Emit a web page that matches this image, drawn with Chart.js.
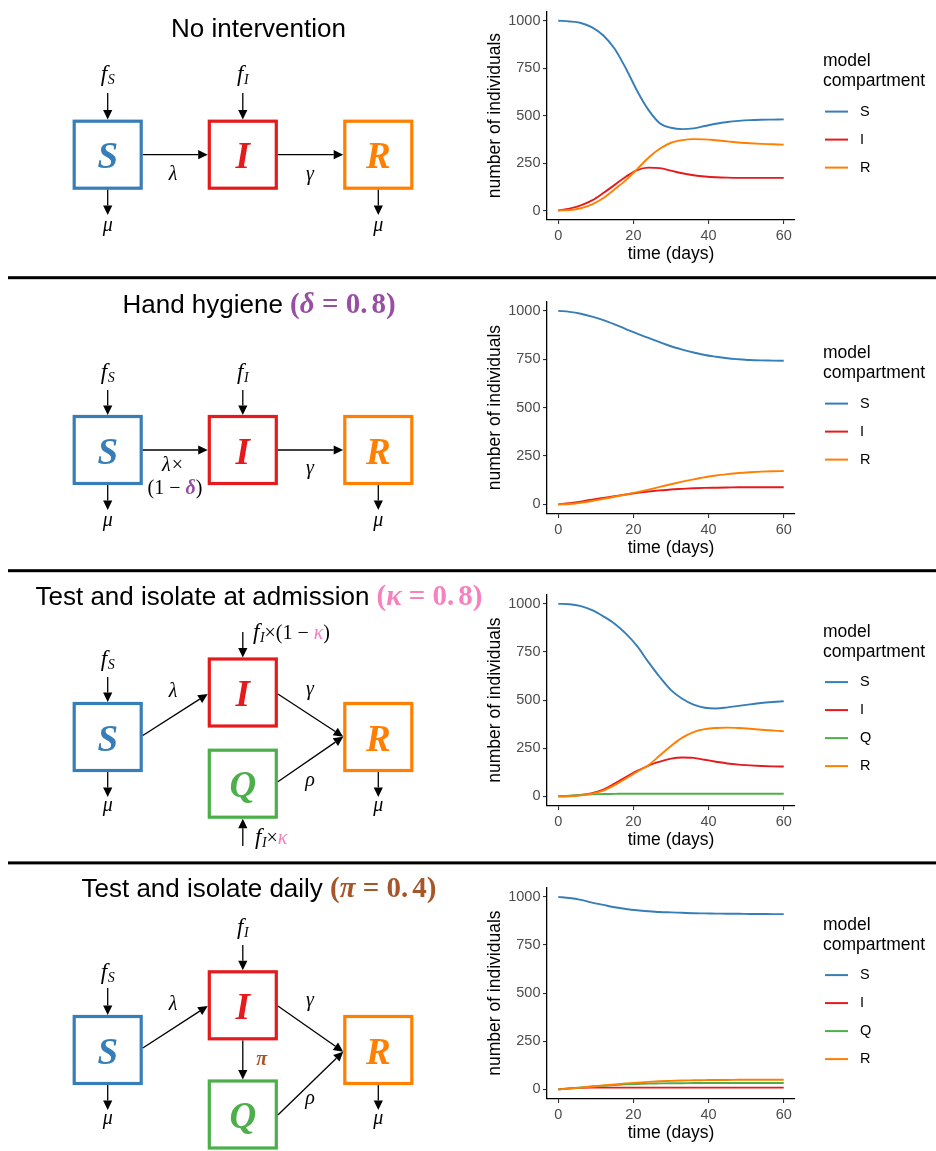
<!DOCTYPE html>
<html>
<head>
<meta charset="utf-8">
<script src="https://cdn.jsdelivr.net/npm/chart.js@4.4.1/dist/chart.umd.min.js"></script>
<style>
  html, body { margin: 0; padding: 0; background: #fff; }
  #wrap { position: relative; width: 936px; height: 1151px; overflow: hidden; background: #fff; }
  canvas { position: absolute; }
</style>
</head>
<body>
<div id="wrap">
  <canvas id="diagram" width="936" height="1151" style="left:0;top:0"></canvas>
  <canvas id="chartNone"></canvas>
  <canvas id="chartHand"></canvas>
  <canvas id="chartAdmit"></canvas>
  <canvas id="chartDaily"></canvas>
</div>
<script>
// ---- model output: compartment sizes, sampled every 3 days ----
const days = [0, 3, 6, 9, 12, 15, 18, 21, 24, 27, 30, 33, 36, 39, 42, 45, 48, 51, 54, 57, 60];
const xTicks = [0, 20, 40, 60];
const yTicks = [0, 250, 500, 750, 1000];

// No intervention
const noneS = [1000, 996, 988, 965, 922, 852, 748, 630, 530, 460, 436, 429, 433, 445, 457, 466, 472, 476, 478, 479, 480];
const noneI = [0, 10, 27, 53, 92, 135, 178, 213, 226, 223, 210, 196, 186, 179, 175, 173, 172, 172, 172, 172, 172];
const noneR = [0, 3, 12, 32, 66, 112, 160, 218, 278, 325, 357, 371, 376, 375, 370, 364, 358, 354, 351, 349, 347];

// Hand hygiene (delta = 0.8)
const handS = [1000, 995, 985, 970, 952, 930, 906, 882, 860, 838, 817, 800, 785, 772, 763, 755, 750, 746, 744, 743, 742];
const handI = [0, 6, 14, 24, 33, 42, 51, 59, 66, 72, 77, 80, 83, 85, 86, 87, 88, 88, 88, 88, 88];
const handR = [0, 2, 8, 17, 28, 39, 51, 63, 76, 90, 104, 117, 129, 140, 149, 156, 162, 166, 169, 171, 172];

// Test and isolate at admission (kappa = 0.8)
const admitS = [1000, 998, 988, 967, 935, 897, 845, 780, 697, 620, 552, 507, 476, 460, 456, 462, 470, 478, 485, 490, 494];
const admitI = [0, 2, 7, 17, 35, 66, 100, 132, 160, 180, 196, 202, 200, 190, 180, 171, 165, 161, 158, 156, 155];
const admitQ = [0, 4, 8, 11, 12, 13, 14, 14, 14, 14, 14, 14, 14, 14, 14, 14, 14, 14, 14, 14, 14];
const admitR = [0, 1, 5, 14, 30, 58, 93, 128, 162, 212, 262, 305, 334, 349, 355, 357, 355, 351, 346, 342, 338];

// Test and isolate daily (pi = 0.4)
const dailyS = [1000, 994, 984, 970, 958, 946, 937, 930, 925, 921, 919, 917, 915, 914, 913, 912, 912, 911, 911, 910, 910];
const dailyI = [0, 5, 8, 9, 9, 9, 9, 9, 9, 9, 9, 9, 9, 9, 9, 9, 9, 9, 9, 9, 9];
const dailyQ = [0, 5, 10, 15, 19, 23, 26, 28, 30, 31, 32, 32, 33, 33, 33, 33, 33, 33, 33, 33, 33];
const dailyR = [0, 4, 9, 15, 20, 26, 31, 35, 39, 42, 44, 46, 47, 48, 49, 49, 50, 50, 50, 50, 50];

const compColors = { S: '#377EB8', I: '#E41A1C', Q: '#4DAF4A', R: '#FF7F00' };
const legendTitle = ['model', 'compartment'];
const xTitle = 'time (days)';
const yTitle = 'number of individuals';

const SANS = '"Liberation Sans", Arial, Helvetica, sans-serif';
const SERIF = '"Liberation Serif", "Times New Roman", serif';

// ---------------- legend drawn beside each plot ----------------
const compartmentLegend = {
  id: 'compartmentLegend',
  afterDraw(chart) {
    const { ctx, chartArea: a } = chart;
    const sets = chart.data.datasets;
    const n = sets.length;
    const cy = (a.top + a.bottom) / 2;
    const t1 = cy - 12 - 14 * n;
    ctx.save();
    ctx.textAlign = 'left';
    ctx.textBaseline = 'middle';
    ctx.fillStyle = '#000';
    ctx.font = '17.5px ' + SANS;
    legendTitle.forEach((t, i) => ctx.fillText(t, a.right + 28, t1 + 20 * i));
    sets.forEach((ds, i) => {
      const y = t1 + 50 + 28 * i;
      ctx.strokeStyle = ds.borderColor;
      ctx.lineWidth = 2;
      ctx.beginPath();
      ctx.moveTo(a.right + 30, y);
      ctx.lineTo(a.right + 53, y);
      ctx.stroke();
      ctx.fillStyle = '#000';
      ctx.font = '14.5px ' + SANS;
      ctx.fillText(ds.label, a.right + 65, y);
    });
    ctx.restore();
  }
};

function makeChart(id, top, padTop, height, series) {
  const canvas = document.getElementById(id);
  canvas.width = 466;
  canvas.height = height;
  canvas.style.left = '470px';
  canvas.style.top = top + 'px';
  const n = series.length;
  new Chart(canvas, {
    type: 'line',
    data: {
      datasets: series.map((s, i) => ({
        label: s.name,
        data: days.map((d, j) => ({ x: d, y: s.values[j] })),
        borderColor: compColors[s.name],
        backgroundColor: compColors[s.name],
        borderWidth: 1.9,
        pointRadius: 0,
        fill: false,
        cubicInterpolationMode: 'monotone',
        order: n - i
      }))
    },
    options: {
      responsive: false,
      animation: false,
      devicePixelRatio: 1,
      layout: { padding: { top: padTop, right: 141, bottom: 0, left: 0 } },
      plugins: { legend: { display: false }, tooltip: { enabled: false } },
      scales: {
        x: {
          type: 'linear', min: -3, max: 63,
          afterBuildTicks: s => { s.ticks = xTicks.map(v => ({ value: v })); },
          afterFit: s => { s.height = 50; },
          grid: { drawOnChartArea: false, drawTicks: true, tickLength: 4, color: '#333', lineWidth: 1.1 },
          border: { display: true, color: '#000', width: 1.3 },
          ticks: { color: '#4d4d4d', font: { family: SANS, size: 14.5 }, padding: 3, maxRotation: 0, autoSkip: false, callback: v => String(v) },
          title: { display: true, text: xTitle, color: '#000', font: { family: SANS, size: 17.5 }, padding: { top: 0, bottom: 5.5 } }
        },
        y: {
          type: 'linear', min: -50, max: 1050,
          afterBuildTicks: s => { s.ticks = yTicks.map(v => ({ value: v })); },
          afterFit: s => { s.width = 77; },
          grid: { drawOnChartArea: false, drawTicks: true, tickLength: 4, color: '#333', lineWidth: 1.1 },
          border: { display: true, color: '#000', width: 1.3 },
          ticks: { color: '#4d4d4d', font: { family: SANS, size: 14.5 }, padding: 2.5, autoSkip: false, callback: v => String(v) },
          title: { display: true, text: yTitle, color: '#000', font: { family: SANS, size: 17.5 }, padding: { top: 14.5, bottom: 0 } }
        }
      }
    },
    plugins: [compartmentLegend]
  });
}

makeChart('chartNone', 0, 8, 270, [
  { name: 'S', values: noneS }, { name: 'I', values: noneI }, { name: 'R', values: noneR }]);
makeChart('chartHand', 290, 11, 274, [
  { name: 'S', values: handS }, { name: 'I', values: handI }, { name: 'R', values: handR }]);
makeChart('chartAdmit', 583, 11, 273, [
  { name: 'S', values: admitS }, { name: 'I', values: admitI }, { name: 'Q', values: admitQ }, { name: 'R', values: admitR }]);
makeChart('chartDaily', 876, 10, 273, [
  { name: 'S', values: dailyS }, { name: 'I', values: dailyI }, { name: 'Q', values: dailyQ }, { name: 'R', values: dailyR }]);

// ---------------- compartment flow diagrams ----------------
const dc = document.getElementById('diagram');
const ctx = dc.getContext('2d');

// draw a sequence of styled text runs; align 'center' or 'left' at baseline y
function runs(x, y, parts, align) {
  ctx.save();
  ctx.textBaseline = 'alphabetic';
  ctx.textAlign = 'left';
  let w = 0;
  parts.forEach(p => { ctx.font = p.f; w += ctx.measureText(p.t).width + (p.gap || 0); });
  let cx = align === 'center' ? x - w / 2 : x;
  parts.forEach(p => {
    ctx.font = p.f;
    ctx.fillStyle = p.c || '#000';
    ctx.fillText(p.t, cx, y + (p.dy || 0));
    cx += ctx.measureText(p.t).width + (p.gap || 0);
  });
  ctx.restore();
}

function arrow(x1, y1, x2, y2) {
  const ang = Math.atan2(y2 - y1, x2 - x1);
  const hl = 9.5, hw = 4.6;
  const bx = x2 - hl * Math.cos(ang), by = y2 - hl * Math.sin(ang);
  ctx.save();
  ctx.strokeStyle = '#000';
  ctx.fillStyle = '#000';
  ctx.lineWidth = 1.3;
  ctx.beginPath(); ctx.moveTo(x1, y1); ctx.lineTo(bx, by); ctx.stroke();
  ctx.beginPath();
  ctx.moveTo(x2, y2);
  ctx.lineTo(bx + hw * Math.sin(ang), by - hw * Math.cos(ang));
  ctx.lineTo(bx - hw * Math.sin(ang), by + hw * Math.cos(ang));
  ctx.closePath();
  ctx.fill();
  ctx.restore();
}

function box(cx, cy, letter) {
  const col = compColors[letter];
  ctx.save();
  ctx.strokeStyle = col;
  ctx.lineWidth = 3.2;
  ctx.strokeRect(cx - 33.5, cy - 33.5, 67, 67);
  ctx.fillStyle = col;
  ctx.font = 'italic bold 37px ' + SERIF;
  ctx.textAlign = 'center';
  ctx.textBaseline = 'alphabetic';
  ctx.fillText(letter, cx, cy + 13.5);
  ctx.restore();
}

const IT = 'italic 20px ' + SERIF;
const RG = '20px ' + SERIF;
const FF = 'italic 23px ' + SERIF;
const SUB = 'italic 14px ' + SERIF;
function fLab(sub) {
  return [{ t: 'f', f: FF, gap: 0.5 }, { t: sub, f: SUB, dy: 3 }];
}
function greek(x, y, g, color, bold) {
  runs(x, y, [{ t: g, f: (bold ? 'italic bold ' : 'italic ') + '20px ' + SERIF, c: color }], 'center');
}
function title(y, text, param, color) {
  const PF = 'bold 29px ' + SERIF;
  runs(259, y, [
    { t: text + ' ', f: '26px ' + SANS },
    { t: '(', f: PF, c: color },
    { t: param[0], f: 'italic bold 29px ' + SERIF, c: color },
    { t: ' = 0.', f: PF, c: color, gap: 4 },
    { t: param[1] + ')', f: PF, c: color }
  ], 'center');
}

// panel separators
ctx.fillStyle = '#000';
[276.2, 569.2, 861.4].forEach(y => ctx.fillRect(8, y, 928, 3));

const xS = 107.7, xI = 242.8, xR = 378.3;
const L = 33.5 + 1.6; // half box incl. stroke

// --- No intervention ---
runs(258.5, 37.3, [{ t: 'No intervention', f: '26px ' + SANS }], 'center');
(function () {
  const cy = 154.7;
  box(xS, cy, 'S'); box(xI, cy, 'I'); box(xR, cy, 'R');
  runs(xS, 81, fLab('S'), 'center'); arrow(xS, 93, xS, cy - L);
  runs(xI, 81, fLab('I'), 'center'); arrow(xI, 93, xI, cy - L);
  arrow(xS + L, cy, xI - L, cy); greek(173, 180, 'λ');
  arrow(xI + L, cy, xR - L, cy); greek(310, 180, 'γ');
  arrow(xS, cy + L, xS, 215); greek(xS, 231, 'μ');
  arrow(xR, cy + L, xR, 215); greek(xR, 231, 'μ');
})();

// --- Hand hygiene ---
title(313, 'Hand hygiene', ['δ', '8'], '#984EA3');
(function () {
  const cy = 450;
  box(xS, cy, 'S'); box(xI, cy, 'I'); box(xR, cy, 'R');
  runs(xS, 379, fLab('S'), 'center'); arrow(xS, 390, xS, cy - L);
  runs(xI, 379, fLab('I'), 'center'); arrow(xI, 390, xI, cy - L);
  arrow(xS + L, cy, xI - L, cy);
  runs(173, 471, [{ t: 'λ×', f: IT }], 'center');
  runs(175, 494, [{ t: '(1 − ', f: RG }, { t: 'δ', f: 'italic bold 20px ' + SERIF, c: '#984EA3' }, { t: ')', f: RG }], 'center');
  arrow(xI + L, cy, xR - L, cy); greek(310, 474, 'γ');
  arrow(xS, cy + L, xS, 510); greek(xS, 526, 'μ');
  arrow(xR, cy + L, xR, 510); greek(xR, 526, 'μ');
})();

// --- Test and isolate at admission ---
title(605, 'Test and isolate at admission', ['κ', '8'], '#F781BF');
(function () {
  const cS = 737, cI = 692.5, cQ = 783.7;
  box(xS, cS, 'S'); box(xI, cI, 'I'); box(xI, cQ, 'Q'); box(xR, cS, 'R');
  runs(xS, 666, fLab('S'), 'center'); arrow(xS, 677, xS, cS - L);
  arrow(xI, 632, xI, cI - L);
  runs(253, 639, fLab('I').concat([{ t: '×(1 − ', f: RG }, { t: 'κ', f: IT, c: '#F781BF' }, { t: ')', f: RG }]), 'left');
  arrow(xS + L, 735.5, xI - L, 694); greek(173, 696.7, 'λ');
  arrow(xI + L, 694, xR - L, 736.7); greek(310, 695, 'γ');
  arrow(xI + L, 781.7, xR - L, 736.7); greek(310, 786, 'ρ');
  arrow(xI, 846, xI, cQ + L);
  runs(255, 844, fLab('I').concat([{ t: '×', f: RG }, { t: 'κ', f: IT, c: '#F781BF' }]), 'left');
  arrow(xS, cS + L, xS, 797); greek(xS, 811, 'μ');
  arrow(xR, cS + L, xR, 797); greek(xR, 811, 'μ');
})();

// --- Test and isolate daily ---
title(897.3, 'Test and isolate daily', ['π', '4'], '#A65628');
(function () {
  const cS = 1050, cI = 1005.3, cQ = 1114.5;
  box(xS, cS, 'S'); box(xI, cI, 'I'); box(xI, cQ, 'Q'); box(xR, cS, 'R');
  runs(xI, 934, fLab('I'), 'center'); arrow(xI, 945, xI, cI - L);
  runs(xS, 979, fLab('S'), 'center'); arrow(xS, 988, xS, cS - L);
  arrow(xS + L, 1048, xI - L, 1006); greek(173, 1010, 'λ');
  arrow(xI + L, 1006, xR - L, 1051.7); greek(310, 1006, 'γ');
  arrow(xI, cI + L, xI, cQ - L); greek(261.7, 1065, 'π', '#A65628', true);
  arrow(xI + L, 1115, xR - L, 1051.7); greek(310, 1104, 'ρ');
  arrow(xS, cS + L, xS, 1110); greek(xS, 1124, 'μ');
  arrow(xR, cS + L, xR, 1110); greek(xR, 1124, 'μ');
})();
</script>
</body>
</html>
